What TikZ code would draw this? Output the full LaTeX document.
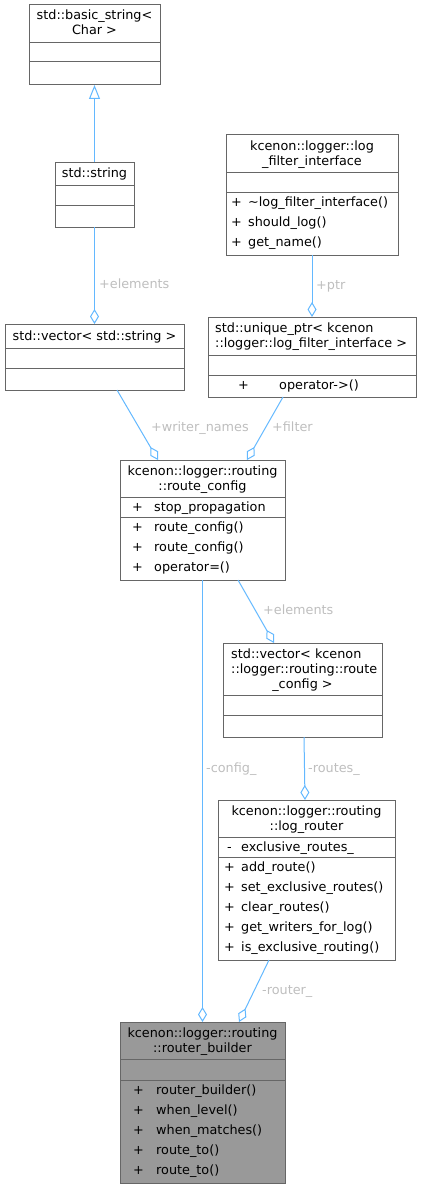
\documentclass[tikz,border=0pt]{standalone}
\usepackage{fontspec}
\setmainfont{DejaVu Sans}
\usepackage{tikz}
\usetikzlibrary{arrows.meta}

\definecolor{boxgray}{HTML}{666666}
\definecolor{edgeblue}{HTML}{63B8FF}
\definecolor{labelgray}{HTML}{BEBEBE}
\definecolor{mainfill}{HTML}{999999}

\begin{document}
\begin{tikzpicture}[x=1pt, y=-1pt, font=\fontsize{12.8}{15}\selectfont,
        classbox/.style={draw=boxgray, line width=1pt, fill=white, inner sep=0pt, outer sep=0pt, anchor=north west},
        sepline/.style={draw=boxgray, line width=1pt},
        title/.style={inner sep=0pt, anchor=base},
        titleleft/.style={inner sep=0pt, anchor=base west},
        row/.style={inner sep=0pt, anchor=base west},
        edge/.style={draw=edgeblue, line width=1pt},
        has/.style={edge, -{Diamond[open, length=15pt, width=9pt]}},
        isa/.style={edge, -{Triangle[open, length=14pt, width=11pt]}},
        edgelabel/.style={inner sep=0pt, anchor=base west, text=labelgray}]

        \useasboundingbox (0,0) rectangle (421,1188);

        % std::basic_string< Char >
        \node[classbox, minimum width=131pt, minimum height=80pt] (basicstr) at (29,5) {};
        \draw[sepline] ([yshift=-38pt]basicstr.north west) -- ([yshift=-38pt]basicstr.north east);
        \draw[sepline] ([yshift=-57pt]basicstr.north west) -- ([yshift=-57pt]basicstr.north east);
        \node[title] (basicstr-t1) at (94.5,20) {std::basic\_string<};
        \node[title] (basicstr-t2) at (94.5,35) {Char >};

        % std::string
        \node[classbox, minimum width=79pt, minimum height=65pt] (stdstr) at (55,162) {};
        \draw[sepline] ([yshift=-23pt]stdstr.north west) -- ([yshift=-23pt]stdstr.north east);
        \draw[sepline] ([yshift=-43pt]stdstr.north west) -- ([yshift=-43pt]stdstr.north east);
        \node[title] (stdstr-t1) at (94.5,177) {std::string};

        % kcenon::logger::log_filter_interface
        \node[classbox, minimum width=172pt, minimum height=120pt] (lfi) at (226,135) {};
        \draw[sepline] ([yshift=-37pt]lfi.north west) -- ([yshift=-37pt]lfi.north east);
        \draw[sepline] ([yshift=-57pt]lfi.north west) -- ([yshift=-57pt]lfi.north east);
        \node[title] (lfi-t1) at (312,150) {kcenon::logger::log};
        \node[title] (lfi-t2) at (312,165) {\_filter\_interface};
        \node[row] (lfi-p1) at (231,206) {+};
        \node[row] (lfi-m1) at (248,206) {\textasciitilde log\_filter\_interface()};
        \node[row] (lfi-p2) at (231,226) {+};
        \node[row] (lfi-m2) at (248,226) {should\_log()};
        \node[row] (lfi-p3) at (231,246) {+};
        \node[row] (lfi-m3) at (248,246) {get\_name()};

        % std::unique_ptr< kcenon::logger::log_filter_interface >
        \node[classbox, minimum width=208pt, minimum height=80pt] (uptr) at (208,317) {};
        \draw[sepline] ([yshift=-38pt]uptr.north west) -- ([yshift=-38pt]uptr.north east);
        \draw[sepline] ([yshift=-58pt]uptr.north west) -- ([yshift=-58pt]uptr.north east);
        \node[titleleft] (uptr-t1) at (215,332) {std::unique\_ptr< kcenon};
        \node[titleleft] (uptr-t2) at (215,347) {::logger::log\_filter\_interface >};
        \node[row] (uptr-p1) at (238,389) {+};
        \node[row] (uptr-m1) at (279,389) {operator->()};

        % std::vector< std::string >
        \node[classbox, minimum width=179pt, minimum height=66pt] (vecstr) at (5,324) {};
        \draw[sepline] ([yshift=-24pt]vecstr.north west) -- ([yshift=-24pt]vecstr.north east);
        \draw[sepline] ([yshift=-44pt]vecstr.north west) -- ([yshift=-44pt]vecstr.north east);
        \node[title] (vecstr-t1) at (94.5,340) {std::vector< std::string >};

        % kcenon::logger::routing::route_config
        \node[classbox, minimum width=165pt, minimum height=120pt] (rcfg) at (120,460) {};
        \draw[sepline] ([yshift=-37pt]rcfg.north west) -- ([yshift=-37pt]rcfg.north east);
        \draw[sepline] ([yshift=-57pt]rcfg.north west) -- ([yshift=-57pt]rcfg.north east);
        \node[title] (rcfg-t1) at (202.5,475) {kcenon::logger::routing};
        \node[title] (rcfg-t2) at (202.5,490) {::route\_config};
        \node[row] (rcfg-p1) at (132,511) {+};
        \node[row] (rcfg-a1) at (154,511) {stop\_propagation};
        \node[row] (rcfg-p2) at (132,531) {+};
        \node[row] (rcfg-m1) at (154,531) {route\_config()};
        \node[row] (rcfg-p3) at (132,551) {+};
        \node[row] (rcfg-m2) at (154,551) {route\_config()};
        \node[row] (rcfg-p4) at (132,571) {+};
        \node[row] (rcfg-m3) at (154,571) {operator=()};

        % std::vector< kcenon::logger::routing::route_config >
        \node[classbox, minimum width=159pt, minimum height=94pt] (vecrc) at (223,643) {};
        \draw[sepline] ([yshift=-52pt]vecrc.north west) -- ([yshift=-52pt]vecrc.north east);
        \draw[sepline] ([yshift=-72pt]vecrc.north west) -- ([yshift=-72pt]vecrc.north east);
        \node[titleleft] (vecrc-t1) at (231,658) {std::vector< kcenon};
        \node[titleleft] (vecrc-t2) at (231,673) {::logger::routing::route};
        \node[title] (vecrc-t3) at (302.5,688) {\_config >};

        % kcenon::logger::routing::log_router
        \node[classbox, minimum width=177pt, minimum height=160pt] (lrouter) at (218,800) {};
        \draw[sepline] ([yshift=-37pt]lrouter.north west) -- ([yshift=-37pt]lrouter.north east);
        \draw[sepline] ([yshift=-57pt]lrouter.north west) -- ([yshift=-57pt]lrouter.north east);
        \node[title] (lrouter-t1) at (306.5,815) {kcenon::logger::routing};
        \node[title] (lrouter-t2) at (306.5,830) {::log\_router};
        \node[row] (lrouter-p1) at (227,851) {-};
        \node[row] (lrouter-a1) at (241,851) {exclusive\_routes\_};
        \node[row] (lrouter-p2) at (224,871) {+};
        \node[row] (lrouter-m1) at (241,871) {add\_route()};
        \node[row] (lrouter-p3) at (224,891) {+};
        \node[row] (lrouter-m2) at (241,891) {set\_exclusive\_routes()};
        \node[row] (lrouter-p4) at (224,911) {+};
        \node[row] (lrouter-m3) at (241,911) {clear\_routes()};
        \node[row] (lrouter-p5) at (224,931) {+};
        \node[row] (lrouter-m4) at (241,931) {get\_writers\_for\_log()};
        \node[row] (lrouter-p6) at (224,951) {+};
        \node[row] (lrouter-m5) at (241,951) {is\_exclusive\_routing()};

        % kcenon::logger::routing::router_builder
        \node[classbox, fill=mainfill, minimum width=165pt, minimum height=161pt] (rbuild) at (120,1022) {};
        \draw[sepline] ([yshift=-37pt]rbuild.north west) -- ([yshift=-37pt]rbuild.north east);
        \draw[sepline] ([yshift=-58pt]rbuild.north west) -- ([yshift=-58pt]rbuild.north east);
        \node[title] (rbuild-t1) at (202.5,1037) {kcenon::logger::routing};
        \node[title] (rbuild-t2) at (202.5,1052) {::router\_builder};
        \node[row] (rbuild-p1) at (133,1094) {+};
        \node[row] (rbuild-m1) at (156,1094) {router\_builder()};
        \node[row] (rbuild-p2) at (133,1114) {+};
        \node[row] (rbuild-m2) at (156,1114) {when\_level()};
        \node[row] (rbuild-p3) at (133,1134) {+};
        \node[row] (rbuild-m3) at (156,1134) {when\_matches()};
        \node[row] (rbuild-p4) at (133,1154) {+};
        \node[row] (rbuild-m4) at (156,1154) {route\_to()};
        \node[row] (rbuild-p5) at (133,1174) {+};
        \node[row] (rbuild-m5) at (156,1174) {route\_to()};

        % connectors
        \draw[isa] (stdstr.north) -- (basicstr.south);
        \draw[has] (stdstr.south) -- (vecstr.north);
        \draw[has] (lfi.south) -- (uptr.north);
        \draw[has] ([xshift=112pt]vecstr.south west) -- ([xshift=38pt]rcfg.north west);
        \draw[has] ([xshift=75pt]uptr.south west) -- ([xshift=127pt]rcfg.north west);
        \draw[has] ([xshift=118pt]rcfg.south west) -- ([xshift=51pt]vecrc.north west);
        \draw[has] (rcfg.south) -- (rbuild.north);
        \draw[has] ([xshift=81pt]vecrc.south west) -- ([xshift=87pt]lrouter.north west);
        \draw[has] ([xshift=51pt]lrouter.south west) -- ([xshift=119pt]rbuild.north west);

        % connector labels
        \node[edgelabel] (lbl-elem1) at (99,288) {+elements};
        \node[edgelabel] (lbl-ptr) at (316,289) {+ptr};
        \node[edgelabel] (lbl-writers) at (151,431) {+writer\_names};
        \node[edgelabel] (lbl-filter) at (272,431) {+filter};
        \node[edgelabel] (lbl-elem2) at (263,614) {+elements};
        \node[edgelabel] (lbl-config) at (206,772) {-config\_};
        \node[edgelabel] (lbl-routes) at (308,772) {-routes\_};
        \node[edgelabel] (lbl-router) at (262,994) {-router\_};

\end{tikzpicture}
\end{document}
